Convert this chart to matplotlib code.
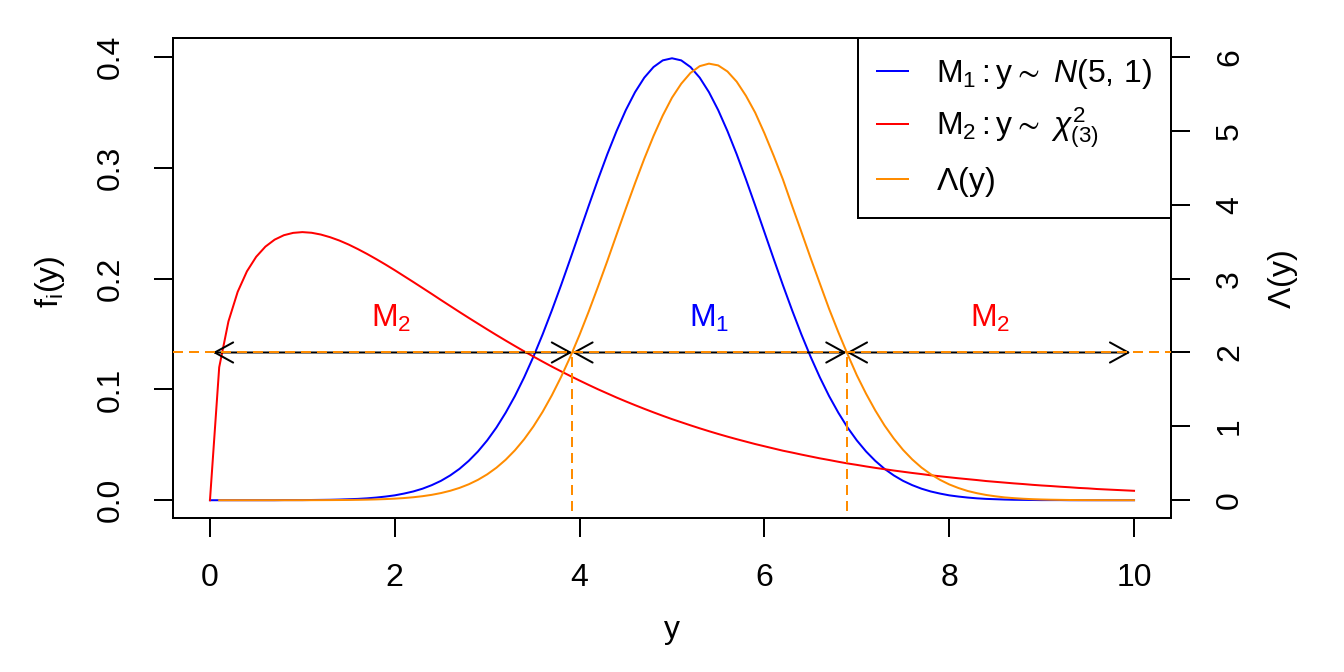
"""Normal vs chi-square densities with likelihood ratio Lambda(y)."""
import matplotlib
matplotlib.use("Agg")
import matplotlib.pyplot as plt
import numpy as np

plt.rcParams['font.family'] = ['Liberation Sans', 'DejaVu Sans']
plt.rcParams['mathtext.fontset'] = 'custom'
plt.rcParams['mathtext.rm'] = 'Liberation Sans'
plt.rcParams['mathtext.it'] = 'Liberation Sans:italic'
plt.rcParams['mathtext.bf'] = 'Liberation Sans:bold'

# grid of y values (step 0.1)
y_vals = [0.0, 0.1, 0.2, 0.3, 0.4, 0.5, 0.6, 0.7, 0.8, 0.9,
          1.0, 1.1, 1.2, 1.3, 1.4, 1.5, 1.6, 1.7, 1.8, 1.9,
          2.0, 2.1, 2.2, 2.3, 2.4, 2.5, 2.6, 2.7, 2.8, 2.9,
          3.0, 3.1, 3.2, 3.3, 3.4, 3.5, 3.6, 3.7, 3.8, 3.9,
          4.0, 4.1, 4.2, 4.3, 4.4, 4.5, 4.6, 4.7, 4.8, 4.9,
          5.0, 5.1, 5.2, 5.3, 5.4, 5.5, 5.6, 5.7, 5.8, 5.9,
          6.0, 6.1, 6.2, 6.3, 6.4, 6.5, 6.6, 6.7, 6.8, 6.9,
          7.0, 7.1, 7.2, 7.3, 7.4, 7.5, 7.6, 7.7, 7.8, 7.9,
          8.0, 8.1, 8.2, 8.3, 8.4, 8.5, 8.6, 8.7, 8.8, 8.9,
          9.0, 9.1, 9.2, 9.3, 9.4, 9.5, 9.6, 9.7, 9.8, 9.9,
          10.0]

# M1: N(5, 1) density
f_m1 = [0.0, 0.0, 0.0, 0.0, 0.0, 0.0, 0.0, 0.0, 0.0001, 0.0001,
        0.0001, 0.0002, 0.0003, 0.0004, 0.0006, 0.0009, 0.0012, 0.0017, 0.0024, 0.0033,
        0.0044, 0.0060, 0.0079, 0.0104, 0.0136, 0.0175, 0.0224, 0.0283, 0.0355, 0.0440,
        0.0540, 0.0656, 0.0790, 0.0940, 0.1109, 0.1295, 0.1497, 0.1714, 0.1942, 0.2179,
        0.2420, 0.2661, 0.2897, 0.3123, 0.3332, 0.3521, 0.3683, 0.3814, 0.3910, 0.3970,
        0.3989, 0.3970, 0.3910, 0.3814, 0.3683, 0.3521, 0.3332, 0.3123, 0.2897, 0.2661,
        0.2420, 0.2179, 0.1942, 0.1714, 0.1497, 0.1295, 0.1109, 0.0940, 0.0790, 0.0656,
        0.0540, 0.0440, 0.0355, 0.0283, 0.0224, 0.0175, 0.0136, 0.0104, 0.0079, 0.0060,
        0.0044, 0.0033, 0.0024, 0.0017, 0.0012, 0.0009, 0.0006, 0.0004, 0.0003, 0.0002,
        0.0001, 0.0001, 0.0001, 0.0, 0.0, 0.0, 0.0, 0.0, 0.0, 0.0,
        0.0]

# M2: chi-square(3) density
f_m2 = [0.0, 0.1200, 0.1614, 0.1881, 0.2066, 0.2197, 0.2289, 0.2352, 0.2392, 0.2413,
        0.2420, 0.2414, 0.2398, 0.2374, 0.2344, 0.2308, 0.2267, 0.2223, 0.2176, 0.2127,
        0.2076, 0.2023, 0.1970, 0.1916, 0.1862, 0.1807, 0.1753, 0.1699, 0.1646, 0.1594,
        0.1542, 0.1491, 0.1441, 0.1392, 0.1344, 0.1297, 0.1251, 0.1206, 0.1163, 0.1121,
        0.1080, 0.1040, 0.1001, 0.0964, 0.0927, 0.0892, 0.0858, 0.0825, 0.0793, 0.0762,
        0.0732, 0.0704, 0.0676, 0.0649, 0.0623, 0.0598, 0.0574, 0.0551, 0.0529, 0.0507,
        0.0487, 0.0467, 0.0447, 0.0430, 0.0412, 0.0395, 0.0378, 0.0363, 0.0347, 0.0332,
        0.0319, 0.0305, 0.0292, 0.0280, 0.0268, 0.0257, 0.0246, 0.0236, 0.0225, 0.0216,
        0.0207, 0.0198, 0.0190, 0.0182, 0.0173, 0.0166, 0.0159, 0.0152, 0.0146, 0.0139,
        0.0133, 0.0128, 0.0122, 0.0117, 0.0111, 0.0107, 0.0101, 0.0097, 0.0093, 0.0089,
        0.0085]

# likelihood ratio Lambda(y) = f1 / f2 (right axis)
lam = [np.nan, 0.0, 0.0, 0.0, 0.0, 0.0001, 0.0001, 0.0002, 0.0003, 0.0004,
       0.0006, 0.0008, 0.0012, 0.0018, 0.0026, 0.0038, 0.0054, 0.0078, 0.0110, 0.0154,
       0.0213, 0.0294, 0.0402, 0.0544, 0.0729, 0.0970, 0.1278, 0.1667, 0.2155, 0.2759,
       0.3501, 0.4401, 0.5479, 0.6756, 0.8253, 0.9986, 1.1969, 1.421, 1.6697, 1.943,
       2.2405, 2.559, 2.894, 3.239, 3.595, 3.947, 4.292, 4.623, 4.931, 5.209,
       5.450, 5.639, 5.785, 5.877, 5.911, 5.887, 5.805, 5.667, 5.476, 5.248,
       4.969, 4.665, 4.344, 3.985, 3.634, 3.279, 2.934, 2.591, 2.275, 1.976,
       1.692, 1.442, 1.215, 1.012, 0.836, 0.682, 0.552, 0.442, 0.352, 0.276,
       0.214, 0.165, 0.125, 0.095, 0.071, 0.053, 0.038, 0.028, 0.020, 0.014,
       0.010, 0.007, 0.005, 0.003, 0.002, 0.0015, 0.001, 0.0007, 0.0004, 0.0003,
       0.0002]

lam_cut = 2.0
cut_points = [3.92, 6.89]
arrow_ends = [0.03, 3.92, 6.89, 9.96]
label_x = [1.96, 5.40, 8.44]
region_labels = [r'$\mathregular{M_2}$', r'$\mathregular{M_1}$', r'$\mathregular{M_2}$']
region_colors = ['#FF0000', '#0000FF', '#FF0000']

blue, red, orange = '#0000FF', '#FF0000', '#FF8C00'
LW = 1.44
FS = 23
dash = (0, (5, 3))

fig = plt.figure(figsize=(13.44, 6.72), dpi=100)
ax = fig.add_axes([173 / 1344, 1 - 518 / 672, (1171 - 173) / 1344, (518 - 38) / 672])
ax.set_xlim(-0.4, 10.4)
ax.set_ylim(-0.01605, 0.4172)

l1, = ax.plot(y_vals, f_m1, color=blue, lw=LW)
l2, = ax.plot(y_vals, f_m2, color=red, lw=LW)

ax2 = ax.twinx()
ax2.set_ylim(-0.01605 * 15, 0.4172 * 15)
l3, = ax2.plot(y_vals, lam, color=orange, lw=LW)

# arrows marking decision regions
for i in range(3):
    ax2.annotate('', xy=(arrow_ends[i + 1], lam_cut), xytext=(arrow_ends[i], lam_cut),
                 arrowprops=dict(arrowstyle='<->, head_length=0.6, head_width=0.33',
                                 color='black', lw=LW, shrinkA=0, shrinkB=0,
                                 mutation_scale=22), zorder=2)
    ax2.text(label_x[i], 2.46, region_labels[i], color=region_colors[i], fontsize=FS,
             ha='center', va='center')

ax2.axhline(lam_cut, color=orange, lw=LW, ls=dash, zorder=6)
ax2.vlines(cut_points, -0.15, lam_cut, color=orange, lw=LW, ls=dash)

# axes styling
ax.set_xticks([0, 2, 4, 6, 8, 10])
ax.set_yticks([0, 0.1, 0.2, 0.3, 0.4])
ax.set_yticklabels(['0.0', '0.1', '0.2', '0.3', '0.4'])
ax2.set_yticks([0, 1, 2, 3, 4, 5, 6])
ax.tick_params(axis='x', length=13.7, width=LW, labelsize=FS, pad=19)
ax.tick_params(axis='y', length=13.7, width=LW, labelsize=FS, pad=20, labelrotation=90)
ax2.tick_params(axis='y', length=13.7, width=LW, labelsize=FS, pad=18, labelrotation=90)
for a in (ax, ax2):
    for s in a.spines.values():
        s.set_linewidth(LW)
for t in ax.get_yticklabels() + ax2.get_yticklabels():
    t.set_va('center')

fig.text(672 / 1344, 1 - 630 / 672, 'y', fontsize=FS, ha='center', va='center')
fig.text(50 / 1344, 1 - 282 / 672, r'$\mathregular{f_i(y)}$', fontsize=FS,
         rotation=90, ha='center', va='center')
fig.text(1283 / 1344, 1 - 280 / 672, r'$\Lambda\mathregular{(y)}$', fontsize=FS,
         rotation=90, ha='center', va='center')

leg = ax2.legend([l1, l2, l3],
                 [r'$\mathregular{M_1 : y \sim}\ N\mathregular{(5,\,1)}$',
                  r'$\mathregular{M_2 : y \sim}\ \chi^2_{\mathregular{(3)}}$',
                  r'$\Lambda\mathregular{(y)}$'],
                 loc='upper right', bbox_to_anchor=(1, 1), borderaxespad=0,
                 fontsize=FS, fancybox=False, framealpha=1, edgecolor='black',
                 handlelength=0.95, handletextpad=0.875, borderpad=0.6,
                 labelspacing=0.45)
leg.get_frame().set_linewidth(LW)
leg.set_zorder(10)

fig.savefig('out.png', dpi=100)
